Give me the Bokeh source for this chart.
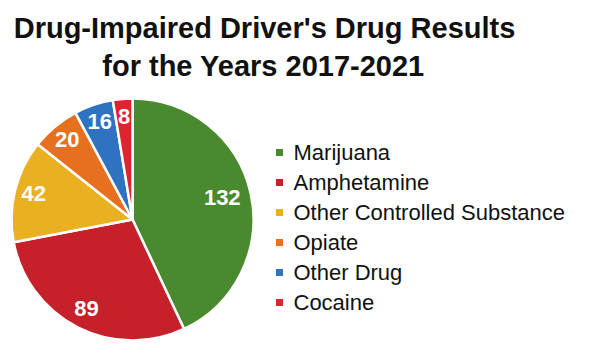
import numpy as np
from bokeh.plotting import figure
from bokeh.models import Range1d, ColumnDataSource
from bokeh.core.properties import value
from bokeh.embed import file_html
from bokeh.resources import INLINE

categories = ["Marijuana", "Amphetamine", "Other Controlled Substance", "Opiate", "Other Drug", "Cocaine"]
counts = [132, 89, 42, 20, 16, 8]
colors = ["#4A8A2F", "#C6202B", "#E9B021", "#E7701F", "#2F72C1", "#E1222F"]
title_lines = ["Drug-Impaired Driver's Drug Results", "for the Years 2017-2021"]

W, H = 600, 353
p = figure(width=W, height=H, output_backend="svg", toolbar_location=None,
           x_range=Range1d(0, W), y_range=Range1d(0, H), min_border=0)
p.axis.visible = False
p.grid.visible = False
p.outline_line_color = None
p.background_fill_color = "white"
p.border_fill_color = "white"

cx, cy, r = 132, 134, 121
vals = np.array(counts, dtype=float)
frac = vals / vals.sum()
cum = np.concatenate([[0], np.cumsum(frac)])
start = np.pi / 2 - cum[:-1] * 2 * np.pi
end = np.pi / 2 - cum[1:] * 2 * np.pi
src = ColumnDataSource(dict(start=start, end=end, color=colors, cat=categories))
p.wedge(x=cx, y=cy, radius=r, start_angle="start", end_angle="end", direction="clock",
        fill_color="color", line_color="white", line_width=2.5, source=src)

mid = np.pi / 2 - (cum[:-1] + cum[1:]) / 2 * 2 * np.pi
lr = np.where(frac > 0.35, 0.76, 0.84) * r
lsrc = ColumnDataSource(dict(x=cx + lr * np.cos(mid), y=cy + 2 + lr * np.sin(mid),
                             t=[str(c) for c in counts]))
p.text(x="x", y="y", text="t", source=lsrc, text_color="white",
       text_font=value("Liberation Sans"), text_font_style="bold", text_font_size="22px",
       text_align="center", text_baseline="middle")

# title
p.text(x=[264, 263], y=[H - 27, H - 65], text=title_lines, text_color="#111111",
       text_font=value("Liberation Sans"), text_font_style="bold", text_font_size="29px",
       text_align="center", text_baseline="middle")

# legend
ly = np.array([H - 152 - 30 * i for i in range(len(categories))])
p.scatter(x=[279] * len(categories), y=ly, marker="square", size=7, fill_color=colors, line_color=None)
p.text(x=[293] * len(categories), y=ly, text=categories, text_color="#111111",
       text_font=value("Liberation Sans"), text_font_size="22px",
       text_align="left", text_baseline="middle")

open("out.html", "w").write(file_html(p, INLINE))
